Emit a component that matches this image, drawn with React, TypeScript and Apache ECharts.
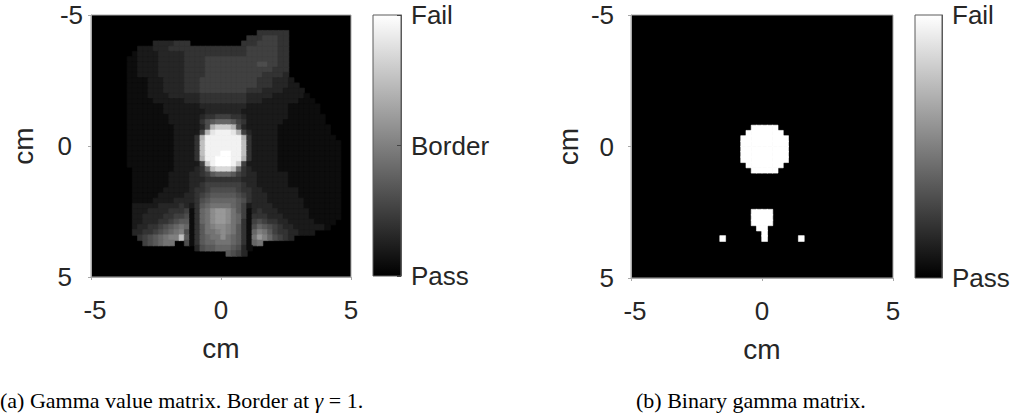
import { useEffect, useRef } from 'react';
import * as echarts from 'echarts';

// Axis range and tick positions (cm)
const AXIS_MIN = -5;
const AXIS_MAX = 5;
const AXIS_STEP = 5;
const AXIS_NAME = 'cm';

// Gamma matrix sampled on a 50 x 50 grid of 0.2 cm cells.
// Each character is a gamma level: '0' = 0.0 … '9' = 0.9, 'a' = 1.0 … 'k' = 2.0.
const CELL_SIZE = 0.2;
const GRID_SIZE = 50;
const LEVEL_CHARS = '0123456789abcdefghijk';
const GAMMA_MAX = 2;
const GAMMA_BORDER = 1;

// One entry per row (top to bottom): [first column, levels]
const GAMMA_ROWS: [number, string][][] = [
  [],
  [],
  [],
  [[32, '444444']],
  [[30, '44455544']],
  [[12, '3333444'], [29, '444555544']],
  [[9, '222' + '333' + '444444444444444' + '555555' + '44']],
  [[8, '1' + '2222' + '33333' + '444444444444' + '555555' + '44']],
  [[7, '11' + '2222' + '33333' + '4444' + '55555555555555' + '44']],
  [[7, '11' + '2222' + '33333' + '4444' + '55555555' + '556655' + '44']],
  [[7, '11' + '2222' + '33333' + '4444' + '55555555' + '555554' + '44']],
  [[7, '11' + '2222' + '33333' + '4444' + '55555555' + '555444' + '43']],
  [[7, '1111' + '222' + '3333' + '444' + '555555555' + '554443332']],
  [[7, '1111' + '222' + '3333' + '444' + '555555555' + '5544433322']],
  [[7, '1111' + '222' + '3333' + '444' + '555555555' + '44433332222']],
  [[7, '1111' + '222' + '2333' + '333' + '444444444' + '333332222221']],
  [[7, '1111' + '122' + '2222' + '333' + '444444444' + '3332222222111']],
  [[7, '1111' + '111' + '2222' + '222' + '333333333' + '22222222111111']],
  [[7, '1111' + '111' + '2222' + '222' + '233333332' + '22222222111111']],
  [[7, '1111' + '111' + '1222' + '222' + '344555443' + '222222221111111']],
  [[7, '1111' + '111' + '1222' + '222' + '467888754' + '222222211111111']],
  [[7, '1111' + '111' + '1122' + '222' + '36eggge63' + '2222221111111111']],
  [[7, '1111' + '111' + '1122' + '222' + '5eijjjie5' + '3222221111111111']],
  [[7, '1111' + '111' + '1122' + '224' + 'ejjjjjjje' + '42222211111111111']],
  [[7, '1111' + '111' + '1122' + '224' + 'fjjjjjjjf' + '422222111111111111']],
  [[7, '1111' + '111' + '1122' + '224' + 'fjjjjjjjf' + '422222111111111111']],
  [[7, '1111' + '111' + '1122' + '224' + 'fjjjkkjjf' + '422222111111111111']],
  [[7, '1111' + '111' + '1122' + '224' + 'ejjkkkjje' + '422222111111111111']],
  [[7, '1111' + '111' + '1122' + '222' + '5gjkkkjg5' + '222222111111111111']],
  [[8, '111' + '111' + '1122' + '223' + '48fhhhf84' + '322222111111111111']],
  [[8, '111' + '111' + '1222' + '233' + '457888754' + '332222221111111111']],
  [[8, '111' + '111' + '1222' + '233' + '344444443' + '332222221111111111']],
  [[8, '111' + '111' + '1222' + '233' + '455555554' + '332222221111111111']],
  [[8, '111' + '111' + '2222' + '234' + '456666654' + '433222222211111111']],
  [[8, '111' + '112' + '2222' + '334' + '567777765' + '433322222211111111']],
  [[8, '111' + '122' + '2233' + '334' + '678888876' + '433322222221111111']],
  [[8, '222' + '223' + '3334' + '324' + '789999875' + '233332222221111111']],
  [[8, '222' + '333' + '3444' + '514' + '89bccb975' + '134333222222111111']],
  [[8, '2233334455614' + '89bccb985' + '144433322222111111']],
  [[8, '2233344567714' + '89bccb984' + '15654433222221111']],
  [[8, '2334456789814' + '79abba974' + '1687654332222221']],
  [[8, '334456789a614' + '799aba974' + '18a9754433222']],
  [[9, '456789aaf714' + '7899b9874' + '19ca86543']],
  [[10, '567899'], [18, '614' + '788999874' + '189']],
  [[20, '3' + '677888763' + '1']],
  [[26, '7653']],
  [],
  [],
  [],
  [],
];

// Colorbar tick labels, bottom to top
const COLORBAR_A_LABELS = ['Pass', 'Border', 'Fail'];
const COLORBAR_B_LABELS = ['Pass', 'Fail'];

// Sub-figure captions
const CAPTION_A = '(a) Gamma value matrix. Border at {g|γ} = 1.';
const CAPTION_B = '(b) Binary gamma matrix.';

const SANS = 'Liberation Sans, Arial, Helvetica, sans-serif';
const SERIF = 'Liberation Serif, Times New Roman, serif';
const TEXT = '#262626';
const AXIS_LINE = '#a8a8a8';

function buildGammaCells(): number[][] {
  const cells: number[][] = [];
  GAMMA_ROWS.forEach((segments, row) => {
    segments.forEach(([start, levels]) => {
      for (let k = 0; k < levels.length; k++) {
        const col = start + k;
        if (col >= GRID_SIZE) break;
        const level = LEVEL_CHARS.indexOf(levels[k]);
        if (level <= 0) continue;
        cells.push([
          AXIS_MIN + CELL_SIZE * (col + 0.5),
          AXIS_MIN + CELL_SIZE * (row + 0.5),
          level / 10,
        ]);
      }
    });
  });
  return cells;
}

const gammaCells = buildGammaCells();
// Binary matrix: every cell above the border value fails
const binaryCells = gammaCells
  .filter((c) => c[2] > GAMMA_BORDER)
  .map((c) => [c[0], c[1], GAMMA_MAX]);

const renderCell = (_params: any, api: any) => {
  const x = api.value(0);
  const y = api.value(1);
  const v = api.value(2);
  const h = CELL_SIZE / 2;
  const p0 = api.coord([x - h, y - h]);
  const p1 = api.coord([x + h, y + h]);
  const g = Math.round(Math.min(1, Math.max(0, v / GAMMA_MAX)) * 255);
  const color = `rgb(${g},${g},${g})`;
  return {
    type: 'rect',
    shape: {
      x: Math.min(p0[0], p1[0]) - 0.3,
      y: Math.min(p0[1], p1[1]) - 0.3,
      width: Math.abs(p1[0] - p0[0]) + 0.6,
      height: Math.abs(p1[1] - p0[1]) + 0.6,
    },
    style: { fill: color, stroke: color, lineWidth: 0.6 },
  };
};

const grayRamp = () =>
  new echarts.graphic.LinearGradient(0, 0, 0, 1, [
    { offset: 0, color: '#ffffff' },
    { offset: 1, color: '#000000' },
  ]);

const labelStyle = { fontSize: 26, fontFamily: SANS, color: TEXT };

function mapXAxis(gridIndex: number) {
  return {
    gridIndex,
    type: 'value',
    min: AXIS_MIN,
    max: AXIS_MAX,
    interval: AXIS_STEP,
    name: AXIS_NAME,
    nameLocation: 'middle',
    nameGap: 57,
    nameTextStyle: { fontSize: 28, fontFamily: SANS, color: TEXT },
    axisLine: { show: true, onZero: false, lineStyle: { color: AXIS_LINE, width: 1 } },
    axisTick: { show: true, length: 3, lineStyle: { color: AXIS_LINE } },
    splitLine: { show: false },
    axisLabel: {
      margin: 20,
      formatter: (v: number) => (v === AXIS_MIN ? `{lo|${v}}` : `{n|${v}}`),
      rich: {
        lo: { ...labelStyle, padding: [0, 0, 0, 8] },
        n: { ...labelStyle },
      },
    },
  };
}

function mapYAxis(gridIndex: number, nameGap: number, margin: number, shiftInner: number) {
  return {
    gridIndex,
    type: 'value',
    min: AXIS_MIN,
    max: AXIS_MAX,
    interval: AXIS_STEP,
    inverse: true,
    name: AXIS_NAME,
    nameLocation: 'middle',
    nameGap,
    nameTextStyle: { fontSize: 28, fontFamily: SANS, color: TEXT },
    axisLine: { show: true, onZero: false, lineStyle: { color: AXIS_LINE, width: 1 } },
    axisTick: { show: true, length: 3, lineStyle: { color: AXIS_LINE } },
    splitLine: { show: false },
    axisLabel: {
      margin,
      formatter: (v: number) => (v === AXIS_MIN ? `{lo|${v}}` : `{n|${v}}`),
      rich: {
        lo: { ...labelStyle },
        n: { ...labelStyle, padding: [0, shiftInner, 0, 0] },
      },
    },
  };
}

function colorbarYAxis(gridIndex: number, labels: string[], showTicks: boolean) {
  return {
    gridIndex,
    type: 'value',
    position: 'right',
    min: 0,
    max: labels.length - 1,
    interval: 1,
    axisLine: { show: true, onZero: false, lineStyle: { color: '#5a5a5a', width: 1 } },
    axisTick: { show: showTicks, inside: true, length: 4, lineStyle: { color: '#444' } },
    splitLine: { show: false },
    axisLabel: {
      margin: 10,
      ...labelStyle,
      formatter: (v: number) => labels[Math.round(v)] ?? '',
    },
  };
}

export default function App() {
  const ref = useRef<HTMLDivElement>(null);

  useEffect(() => {
    if (!ref.current) return;
    const chart = echarts.init(ref.current, undefined, { renderer: 'svg' });

    chart.setOption({
      animation: false,
      backgroundColor: '#ffffff',
      grid: [
        { left: 91, top: 15, width: 260, height: 262, show: true, backgroundColor: '#000', borderColor: AXIS_LINE, borderWidth: 1 },
        { left: 373, top: 15, width: 28, height: 261, show: true, backgroundColor: grayRamp(), borderColor: '#5a5a5a', borderWidth: 1 },
        { left: 631, top: 15, width: 262, height: 263, show: true, backgroundColor: '#000', borderColor: AXIS_LINE, borderWidth: 1 },
        { left: 915, top: 15, width: 27, height: 263, show: true, backgroundColor: grayRamp(), borderColor: '#5a5a5a', borderWidth: 1 },
      ],
      xAxis: [
        mapXAxis(0),
        { gridIndex: 1, type: 'value', show: false, min: 0, max: 1 },
        mapXAxis(2),
        { gridIndex: 3, type: 'value', show: false, min: 0, max: 1 },
      ],
      yAxis: [
        mapYAxis(0, 54, 8, 11),
        colorbarYAxis(1, COLORBAR_A_LABELS, true),
        mapYAxis(2, 49, 17, 0),
        colorbarYAxis(3, COLORBAR_B_LABELS, false),
      ],
      series: [
        {
          type: 'custom',
          name: 'Gamma value',
          xAxisIndex: 0,
          yAxisIndex: 0,
          data: gammaCells,
          encode: { x: 0, y: 1 },
          renderItem: renderCell,
          clip: true,
          silent: true,
        },
        {
          type: 'custom',
          name: 'Binary gamma',
          xAxisIndex: 2,
          yAxisIndex: 2,
          data: binaryCells,
          encode: { x: 0, y: 1 },
          renderItem: renderCell,
          clip: true,
          silent: true,
        },
      ],
      graphic: [
        {
          type: 'text',
          x: 0,
          y: 400,
          style: {
            text: CAPTION_A,
            fontSize: 22,
            fontFamily: SERIF,
            fill: '#000',
            textVerticalAlign: 'middle',
            rich: { g: { fontSize: 22, fontFamily: SERIF, fontStyle: 'italic', fill: '#000' } },
          },
        },
        {
          type: 'text',
          x: 636,
          y: 400,
          style: {
            text: CAPTION_B,
            fontSize: 22,
            fontFamily: SERIF,
            fill: '#000',
            textVerticalAlign: 'middle',
          },
        },
      ],
    });

    return () => chart.dispose();
  }, []);

  return (
    <div
      ref={ref}
      style={{ position: 'fixed', left: 0, top: 0, width: 1017, height: 419, background: '#fff' }}
    />
  );
}
